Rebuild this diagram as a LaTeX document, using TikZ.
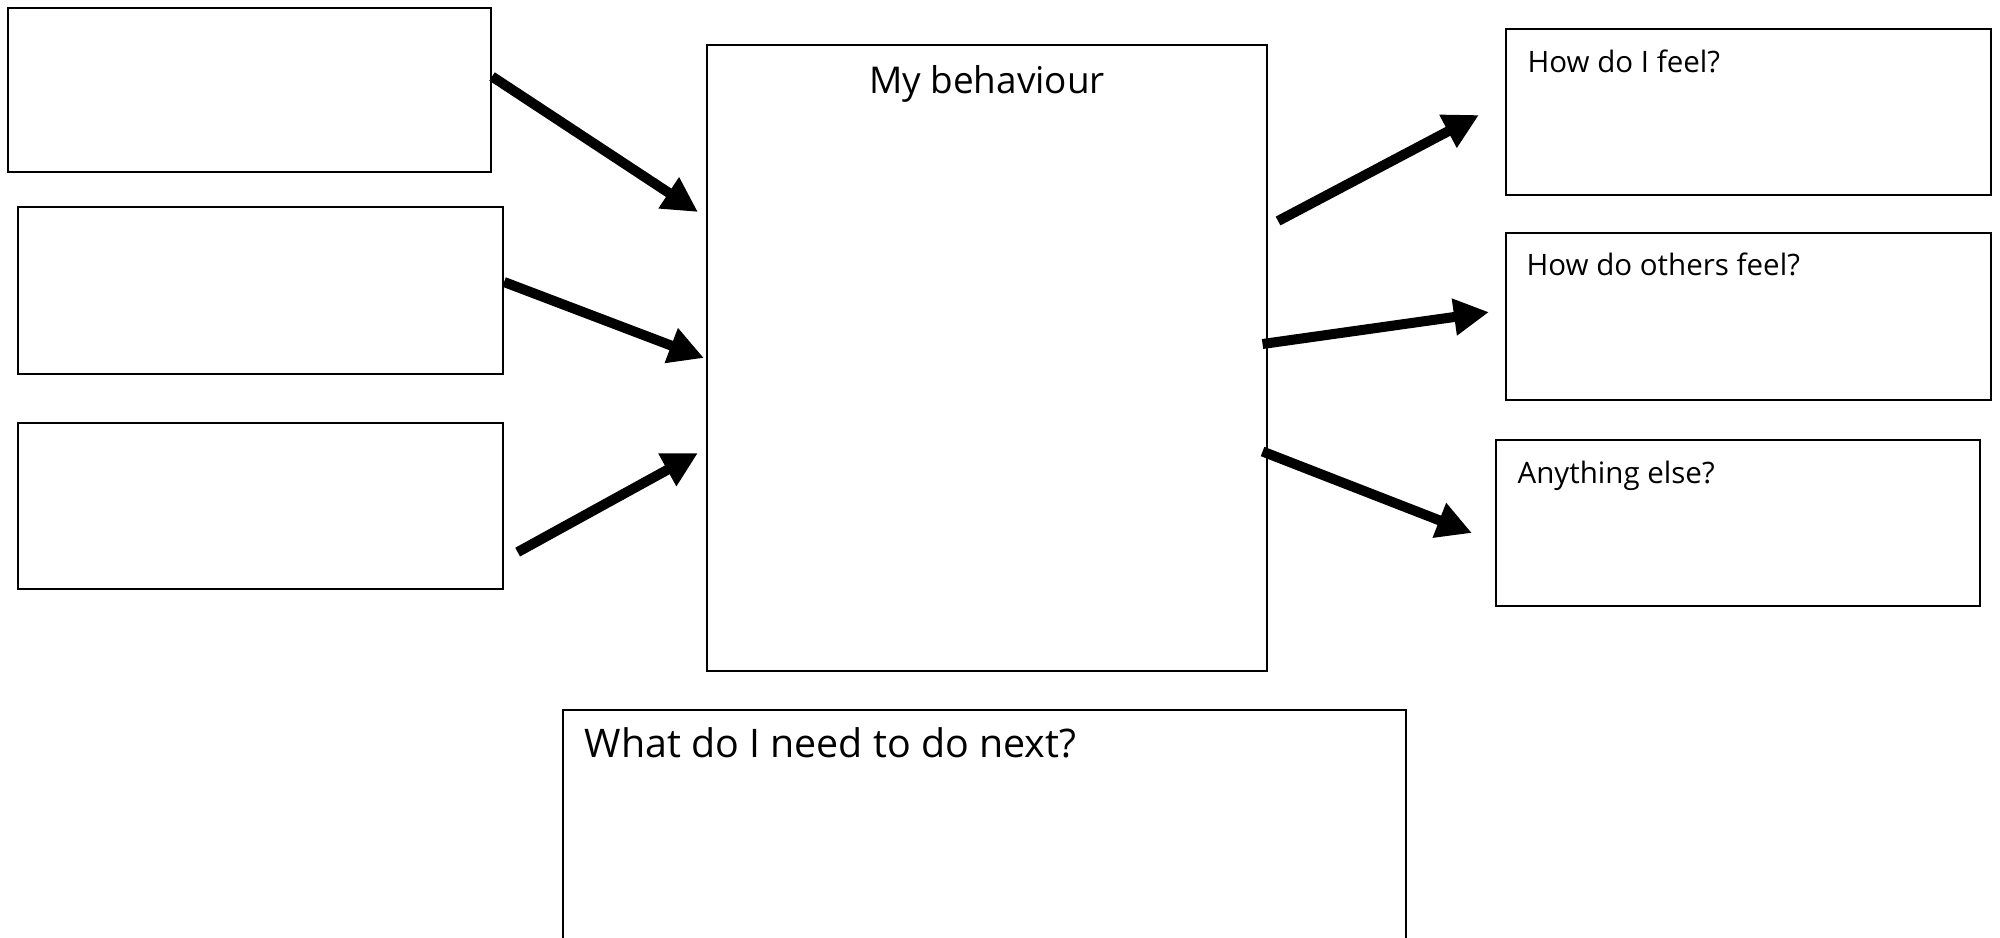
\documentclass[tikz,border=0pt]{standalone}
\usepackage{fontspec}
\setmainfont{Open Sans}
\usetikzlibrary{arrows.meta,positioning,calc}

\begin{document}
\begin{tikzpicture}[
  box/.style={draw, line width=0.6pt, inner sep=0pt},
  boxtext/.style={anchor=north west, inner sep=0pt, font=\fontsize{8.4}{10}\selectfont},
  arrow/.style={-{Triangle[length=3.5mm, width=3.5mm]}, line width=1mm}
]
\clip (0,0) rectangle (20,9.37);

% left boxes
\node[box, minimum width=4.83cm, minimum height=1.64cm] (l1) at (2.495,8.47) {};
\node[box, minimum width=4.85cm, minimum height=1.67cm] (l2) at (2.605,6.465) {};
\node[box, minimum width=4.85cm, minimum height=1.66cm, below=4.7mm of l2] (l3) {};

% middle box
\node[box, minimum width=5.6cm, minimum height=6.26cm] (mid) at (9.87,5.79) {};
\node[anchor=north, inner sep=0pt, font=\fontsize{10.5}{12}\selectfont] (midtitle)
  at ([yshift=-2.1mm]mid.north) {My behaviour};

% right boxes
\node[box, minimum width=4.85cm, minimum height=1.66cm] (r1) at (17.485,8.25) {};
\node[box, minimum width=4.85cm, minimum height=1.67cm, below=3.6mm of r1] (r2) {};
\node[box, minimum width=4.84cm, minimum height=1.66cm] (r3) at (17.38,4.14) {};
\node[boxtext] (r1text) at ([shift={(2.2mm,-2.1mm)}]r1.north west) {How do I feel?};
\node[boxtext] (r2text) at ([shift={(2.1mm,-2.0mm)}]r2.north west) {How do others feel?};
\node[boxtext] (r3text) at ([shift={(2.2mm,-2.1mm)}]r3.north west) {Anything else?};

% bottom box
\node[box, minimum width=8.43cm, minimum height=4cm, anchor=north west] (next) at (5.62,2.28) {};
\node[boxtext, font=\fontsize{11.2}{13}\selectfont] (nexttext)
  at ([shift={(2.2mm,-1.8mm)}]next.north west) {What do I need to do next?};

% arrows into my behaviour
\draw[arrow] ([yshift=1.35mm]l1.east) -- ([shift={(-0.8mm,14.6mm)}]mid.west);
\draw[arrow] ([yshift=0.85mm]l2.east) -- ([xshift=-0.2mm]mid.west);
\draw[arrow] ([shift={(1.36mm,-4.6mm)}]l3.east) -- ([shift={(-0.8mm,-9.5mm)}]mid.west);

% arrows out
\draw[arrow] ([shift={(1mm,13.7mm)}]mid.east) -- ([shift={(-2.6mm,-0.3mm)}]r1.west);
\draw[arrow] ([shift={(-0.55mm,1.4mm)}]mid.east) -- ([shift={(-1.6mm,0.45mm)}]r2.west);
\draw[arrow] ([shift={(-0.55mm,-9.35mm)}]mid.east) -- ([shift={(-2.3mm,-1mm)}]r3.west);

\end{tikzpicture}
\end{document}
